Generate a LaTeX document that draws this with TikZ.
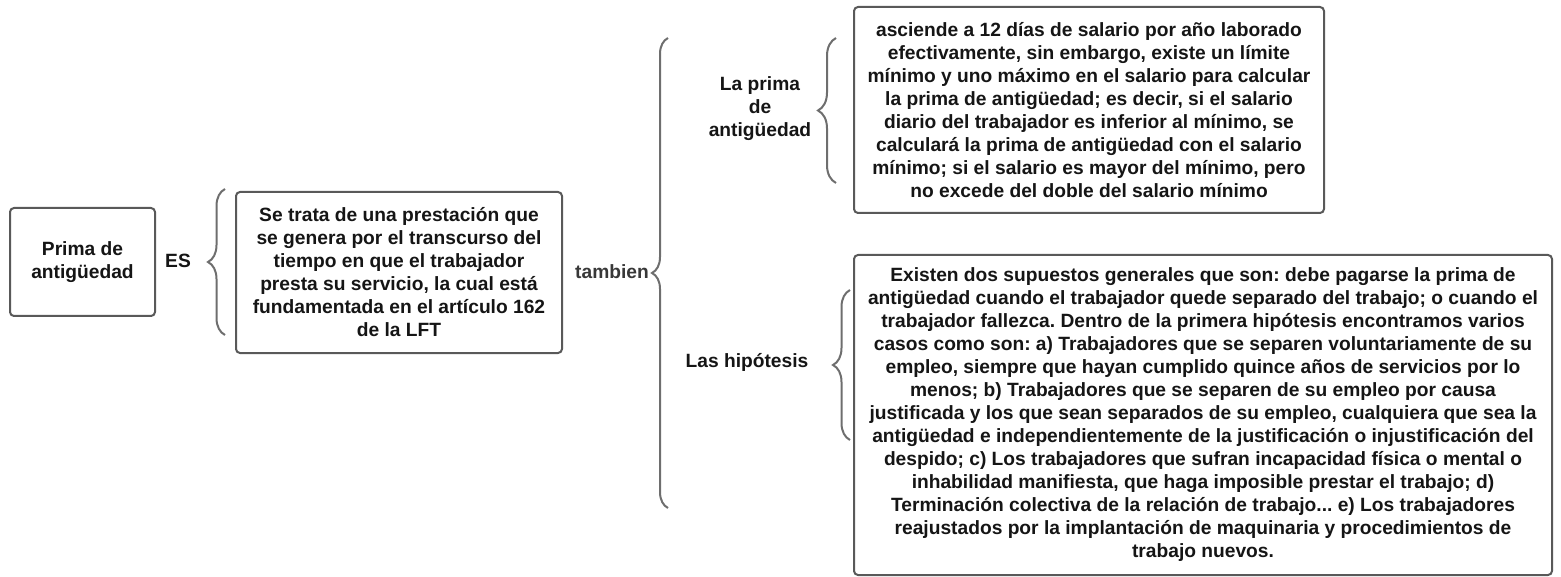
\documentclass[tikz,border=0pt]{standalone}
\usepackage{fontspec}
\setmainfont{Liberation Sans}
\frenchspacing
\usetikzlibrary{decorations.pathreplacing}
\definecolor{txt}{HTML}{151515}
\definecolor{boxline}{HTML}{595959}
\definecolor{braceline}{HTML}{6E6E6E}
\tikzset{
  base/.style={font=\fontsize{19.2}{23}\selectfont\bfseries, text=txt, align=center, inner sep=0pt},
  box/.style={base, draw=boxline, line width=2pt, rounded corners=4pt, fill=white},
  lbl/.style={base},
  brc/.style={draw=braceline, line width=2pt, decorate, decoration={brace, amplitude=#1}},
}
\begin{document}
\begin{tikzpicture}[x=1pt,y=-1pt]
\useasboundingbox (0,0) rectangle (1561,577);

% boxes
\node[box, minimum width=145pt, minimum height=108pt] (prima) at (82.5,262) {Prima de\\antigüedad};
\node[box, minimum width=326pt, minimum height=161pt] (def) at (399,272.5)
 {Se trata de una prestación que\\se genera por el transcurso del\\tiempo en que el trabajador\\presta su servicio, la cual está\\fundamentada en el artículo 162\\de la LFT};
\node[box, minimum width=470pt, minimum height=206pt] (calc) at (1089,110)
 {asciende a 12 días de salario por año laborado\\efectivamente, sin embargo, existe un límite\\mínimo y uno máximo en el salario para calcular\\la prima de antigüedad; es decir, si el salario\\diario del trabajador es inferior al mínimo, se\\calculará la prima de antigüedad con el salario\\mínimo; si el salario es mayor del mínimo, pero\\no excede del doble del salario mínimo};
\node[box, minimum width=698pt, minimum height=320pt] (hyp) at (1203,415)
 {Existen dos supuestos generales que son: debe pagarse la prima de\\antigüedad cuando el trabajador quede separado del trabajo; o cuando el\\trabajador fallezca. Dentro de la primera hipótesis encontramos varios\\casos como son: a) Trabajadores que se separen voluntariamente de su\\empleo, siempre que hayan cumplido quince años de servicios por lo\\menos; b) Trabajadores que se separen de su empleo por causa\\justificada y los que sean separados de su empleo, cualquiera que sea la\\antigüedad e independientemente de la justificación o injustificación del\\despido; c) Los trabajadores que sufran incapacidad física o mental o\\inhabilidad manifiesta, que haga imposible prestar el trabajo; d)\\Terminación colectiva de la relación de trabajo... e) Los trabajadores\\reajustados por la implantación de maquinaria y procedimientos de\\trabajo nuevos.};

% labels
\node[lbl] (es) at (178,261) {ES};
\node[lbl, text=black!78] (tamb) at (612,272) {tambien};
\node[lbl] (lprima) at (760,109) {La prima\\de\\antigüedad};
\node[lbl] (lhyp) at (747,362) {Las hipótesis};

% braces
\coordinate (b1t) at (225,189);
\coordinate (b1b) at (225,335);
\coordinate (b0t) at (668,38);
\coordinate (b0b) at (668,508);
\coordinate (b2t) at (836,38);
\coordinate (b2b) at (836,183);
\coordinate (b3t) at (850,290);
\coordinate (b3b) at (850,440);
\draw[brc=17pt] (b1b) -- (b1t);
\draw[brc=16pt] (b0b) -- (b0t);
\draw[brc=18pt] (b2b) -- (b2t);
\draw[brc=17pt] (b3b) -- (b3t);
\end{tikzpicture}
\end{document}
